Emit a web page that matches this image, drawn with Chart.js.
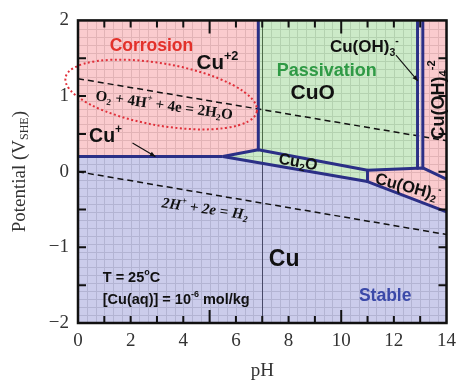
<!DOCTYPE html>
<html>
<head>
<meta charset="utf-8">
<script src="https://cdn.jsdelivr.net/npm/chart.js@4.4.1/dist/chart.umd.min.js"></script>
<style>
  html, body { margin: 0; padding: 0; background: #fff; }
  #wrap { width: 463px; height: 381px; }
</style>
</head>
<body>
<div id="wrap"><canvas id="c" width="463" height="381"></canvas></div>
<script>
// Axis tick labels
const phTicks = [0, 2, 4, 6, 8, 10, 12, 14];
const potentialTicks = [-2, -1, 0, 1, 2];
const phMinorMarks = [1, 2, 3, 4, 5, 6, 7, 8, 9, 10, 11, 12, 13];
const phMajorMarks = [5, 10];
const potentialMarks = [-1.5, -1, -0.5, 0, 0.5, 1, 1.5];

// Phase boundaries, [pH, E (V vs SHE)]
const cuPlusBoundary   = [[0, 0.2], [5.5, 0.2]];
const cu2oUpper        = [[5.5, 0.2], [6.85, 0.29], [11, 0.02], [13.1, 0.05], [14, -0.1]];
const cu2oLower        = [[5.5, 0.2], [11, -0.13], [14, -0.53]];
const cuoAcidEdge      = [[6.85, 2], [6.85, 0.29]];
const hydroxideEdge    = [[11, 0.02], [11, -0.13]];
const cuOH3AcidEdge    = [[12.9, 2], [12.9, 0.047]];
const cuOH3BaseEdge    = [[13.1, 2], [13.1, 0.05]];

// Water stability lines
const oxygenLine   = [[0, 1.23], [14, 0.41]];
const hydrogenLine = [[0, 0], [14, -0.83]];

// Stability fields
const corrosionField   = [[0, 2], [6.85, 2], [6.85, 0.29], [5.5, 0.2], [0, 0.2]];
const passivationField = [[6.85, 2], [12.9, 2], [12.9, 0.047], [11, 0.02], [11, -0.13], [5.5, 0.2], [6.85, 0.29]];
const cuOH3Field       = [[12.9, 2], [13.1, 2], [13.1, 0.05], [12.9, 0.047]];
const cuOH4Field       = [[13.1, 2], [14, 2], [14, -0.1], [13.1, 0.05]];
const cuOH2Field       = [[11, 0.02], [13.1, 0.05], [14, -0.1], [14, -0.53], [11, -0.13]];
const immunityField    = [[0, 0.2], [5.5, 0.2], [11, -0.13], [14, -0.53], [14, -2], [0, -2]];

// Text placed on the diagram: parts are plain text or [text, 'sup'|'sub']
const SANS = '"Liberation Sans", Arial, sans-serif';
const SERIF = '"Liberation Serif", "Times New Roman", serif';
const diagramLabels = [
  { parts: ['Corrosion'], at: [2.79, 1.66], size: 17.5, color: '#e3312b' },
  { parts: ['Cu', ['+2', 'sup']], at: [5.3, 1.43], size: 20.5 },
  { parts: ['O', ['2', 'sub'], ' + 4H', ['+', 'sup'], ' + 4e = 2H', ['2', 'sub'], 'O'], at: [3.27, 0.87], size: 15, family: SERIF, angle: 8 },
  { parts: ['Cu', ['+', 'sup']], at: [1.05, 0.46], size: 19.5 },
  { parts: ['Passivation'], at: [9.45, 1.33], size: 18, color: '#2f9a45' },
  { parts: ['CuO'], at: [8.92, 1.04], size: 21 },
  { parts: ['Cu(OH)', ['3', 'sub'], ['-', 'sup']], at: [10.88, 1.64], size: 17 },
  { parts: ['Cu(OH)', ['4', 'sub'], ['-2', 'sup']], at: [13.7, 0.95], size: 18 },
  { parts: ['Cu', ['2', 'sub'], 'O'], at: [8.36, 0.12], size: 16, angle: 10 },
  { parts: ['Cu(OH)', ['2', 'sub'], ['-', 'sup']], at: [12.53, -0.21], size: 16.5, angle: 15 },
  { parts: ['2H', ['+', 'sup'], ' + 2e = H', ['2', 'sub']], at: [4.82, -0.5], size: 15, family: SERIF, style: 'italic', angle: 8 },
  { parts: ['Cu'], at: [7.83, -1.16], size: 23 },
  { parts: ['T = 25', ['o', 'sup'], 'C'], at: [0.94, -1.4], size: 14.5, align: 'left' },
  { parts: ['[Cu(aq)] = 10', ['-6', 'sup'], ' mol/kg'], at: [0.94, -1.69], size: 14.5, align: 'left' },
  { parts: ['Stable'], at: [11.67, -1.64], size: 17.5, color: '#3a48a8' }
];
diagramLabels[7].angle = -90;

// Leader arrows: [from, to]
const leaderArrows = [
  [[2.07, 0.38], [2.94, 0.2]],
  [[12.08, 1.54], [12.91, 1.2]]
];

// Highlight ring round the oxygen reaction
const ringCenter = [3.16, 1.02];
const ringHalfWidthPH = 3.69;
const ringHalfHeightV = 0.41;
const ringTiltDeg = 10;

const toXY = pts => pts.map(([x, y]) => ({ x, y }));
const closed = pts => toXY(pts.concat([pts[0]]));

const NAVY = '#2b2f86';
function fieldSet(pts, color) {
  return { data: closed(pts), showLine: true, fill: 'shape', backgroundColor: color,
           borderWidth: 0, borderColor: 'rgba(0,0,0,0)', pointRadius: 0, order: 3 };
}
function boundarySet(pts) {
  return { data: toXY(pts), showLine: true, fill: false, borderColor: NAVY,
           borderWidth: 3, pointRadius: 0, order: 1, borderJoinStyle: 'round' };
}
function waterSet(pts) {
  return { data: toXY(pts), showLine: true, fill: false, borderColor: '#111',
           borderWidth: 1.5, borderDash: [6, 4], pointRadius: 0, order: 2 };
}

function drawRich(ctx, parts, x, y, o) {
  const fam = o.family || SANS;
  const fontOf = s => `${o.style || 'normal'} bold ${s}px ${fam}`;
  const pieces = parts.map(p => {
    const [t, k] = typeof p === 'string' ? [p, 'n'] : p;
    const s = k === 'n' ? o.size : o.size * 0.62;
    ctx.font = fontOf(s);
    return { t, k, s, w: ctx.measureText(t).width };
  });
  const total = pieces.reduce((a, p) => a + p.w, 0);
  ctx.save();
  ctx.translate(x, y);
  ctx.rotate((o.angle || 0) * Math.PI / 180);
  ctx.fillStyle = o.color || '#111';
  ctx.textBaseline = 'middle';
  let cx = o.align === 'left' ? 0 : -total / 2;
  for (const p of pieces) {
    ctx.font = fontOf(p.s);
    const dy = p.k === 'sup' ? -o.size * 0.36 : p.k === 'sub' ? o.size * 0.3 : 0;
    ctx.fillText(p.t, cx, dy);
    cx += p.w;
  }
  ctx.restore();
}

// Graph-paper background behind the fields
const paperPlugin = {
  id: 'paper',
  beforeDatasetsDraw(chart) {
    const { ctx, chartArea: a, scales: { x, y } } = chart;
    ctx.save();
    ctx.strokeStyle = '#d9d9d9';
    ctx.lineWidth = 1;
    ctx.beginPath();
    for (let v = 0; v <= 14.001; v += 1 / 3) {
      const px = Math.round(x.getPixelForValue(v)) + 0.5;
      ctx.moveTo(px, a.top); ctx.lineTo(px, a.bottom);
    }
    for (let v = -2; v <= 2.001; v += 0.105) {
      const py = Math.round(y.getPixelForValue(v)) + 0.5;
      ctx.moveTo(a.left, py); ctx.lineTo(a.right, py);
    }
    ctx.stroke();
    // neutral pH reference
    ctx.strokeStyle = '#333';
    ctx.beginPath();
    const p7 = Math.round(x.getPixelForValue(7)) + 0.5;
    ctx.moveTo(p7, a.top); ctx.lineTo(p7, a.bottom);
    ctx.stroke();
    ctx.restore();
  }
};

const overlayPlugin = {
  id: 'overlay',
  afterDraw(chart) {
    const { ctx, chartArea: a, scales: { x, y } } = chart;
    const P = ([ph, e]) => [x.getPixelForValue(ph), y.getPixelForValue(e)];

    // dotted ring
    ctx.save();
    const [rcx, rcy] = P(ringCenter);
    const rx = x.getPixelForValue(ringHalfWidthPH) - x.getPixelForValue(0);
    const ry = y.getPixelForValue(0) - y.getPixelForValue(ringHalfHeightV);
    ctx.strokeStyle = '#e0303a';
    ctx.lineWidth = 2;
    ctx.setLineDash([2, 2.5]);
    ctx.beginPath();
    ctx.ellipse(rcx, rcy, rx, ry, ringTiltDeg * Math.PI / 180, 0, Math.PI * 2);
    ctx.stroke();
    ctx.restore();

    // leader arrows
    ctx.save();
    ctx.strokeStyle = '#111'; ctx.fillStyle = '#111'; ctx.lineWidth = 1.1;
    for (const [f, t] of leaderArrows) {
      const [x1, y1] = P(f), [x2, y2] = P(t);
      const ang = Math.atan2(y2 - y1, x2 - x1);
      ctx.beginPath(); ctx.moveTo(x1, y1); ctx.lineTo(x2, y2); ctx.stroke();
      ctx.beginPath();
      ctx.moveTo(x2, y2);
      ctx.lineTo(x2 - 6 * Math.cos(ang - 0.4), y2 - 6 * Math.sin(ang - 0.4));
      ctx.lineTo(x2 - 6 * Math.cos(ang + 0.4), y2 - 6 * Math.sin(ang + 0.4));
      ctx.closePath(); ctx.fill();
    }
    ctx.restore();

    // labels
    for (const L of diagramLabels) {
      const [lx, ly] = P(L.at);
      drawRich(ctx, L.parts, lx, ly, L);
    }

    // inward tick marks on all four sides
    ctx.save();
    ctx.strokeStyle = '#111'; ctx.lineWidth = 2;
    ctx.beginPath();
    for (const v of phMinorMarks) {
      const len = phMajorMarks.includes(v) ? 13 : 7;
      const px = x.getPixelForValue(v);
      ctx.moveTo(px, a.bottom); ctx.lineTo(px, a.bottom - len);
      ctx.moveTo(px, a.top); ctx.lineTo(px, a.top + len);
    }
    for (const v of potentialMarks) {
      const py = y.getPixelForValue(v);
      ctx.moveTo(a.left, py); ctx.lineTo(a.left + 8, py);
      ctx.moveTo(a.right, py); ctx.lineTo(a.right - 8, py);
    }
    ctx.stroke();
    // frame
    ctx.lineWidth = 2.5;
    ctx.strokeRect(a.left, a.top, a.right - a.left, a.bottom - a.top);
    ctx.restore();

    // vertical axis title
    ctx.save();
    ctx.translate(20, (a.top + a.bottom) / 2);
    ctx.rotate(-Math.PI / 2);
    ctx.fillStyle = '#333';
    ctx.textBaseline = 'middle';
    const main = `19px ${SERIF}`, small = `12px ${SERIF}`;
    const segs = [['Potential (V', main, 0], ['SHE', small, 5], [')', main, 0]];
    let w = 0;
    for (const s of segs) { ctx.font = s[1]; s.push(ctx.measureText(s[0]).width); w += s[3]; }
    let cx = -w / 2;
    for (const s of segs) { ctx.font = s[1]; ctx.fillText(s[0], cx, s[2]); cx += s[3]; }
    ctx.restore();
  }
};

new Chart(document.getElementById('c'), {
  type: 'scatter',
  data: {
    datasets: [
      fieldSet(corrosionField,   'rgba(240,110,120,0.36)'),
      fieldSet(passivationField, 'rgba(120,200,110,0.38)'),
      fieldSet(cuOH3Field,       'rgba(240,110,120,0.14)'),
      fieldSet(cuOH4Field,       'rgba(240,110,120,0.36)'),
      fieldSet(cuOH2Field,       'rgba(240,110,120,0.36)'),
      fieldSet(immunityField,    'rgba(110,115,200,0.36)'),
      waterSet(oxygenLine),
      waterSet(hydrogenLine),
      boundarySet(cuPlusBoundary),
      boundarySet(cu2oUpper),
      boundarySet(cu2oLower),
      boundarySet(cuoAcidEdge),
      boundarySet(hydroxideEdge),
      boundarySet(cuOH3AcidEdge),
      boundarySet(cuOH3BaseEdge)
    ]
  },
  options: {
    responsive: false,
    animation: false,
    layout: { padding: { top: 20, right: 13, left: 0, bottom: 0 } },
    plugins: { legend: { display: false }, tooltip: { enabled: false } },
    scales: {
      x: {
        type: 'linear', min: 0, max: 14,
        afterBuildTicks: s => { s.ticks = phTicks.map(v => ({ value: v })); },
        afterFit: s => { s.height = 58; },
        ticks: { font: { family: SERIF, size: 19 }, color: '#333', padding: 7 },
        grid: { display: false, drawTicks: false },
        border: { display: false },
        title: { display: true, text: 'pH', color: '#333', font: { family: SERIF, size: 19, lineHeight: 1 }, padding: { top: 0, bottom: 0 } }
      },
      y: {
        type: 'linear', min: -2, max: 2,
        afterBuildTicks: s => { s.ticks = potentialTicks.map(v => ({ value: v })); },
        afterFit: s => { s.width = 78; },
        ticks: { font: { family: SERIF, size: 19 }, color: '#333', padding: 9,
                 callback: v => (v < 0 ? '\u2212' + Math.abs(v) : String(v)) },
        grid: { display: false, drawTicks: false },
        border: { display: false }
      }
    }
  },
  plugins: [paperPlugin, overlayPlugin]
});
</script>
</body>
</html>
